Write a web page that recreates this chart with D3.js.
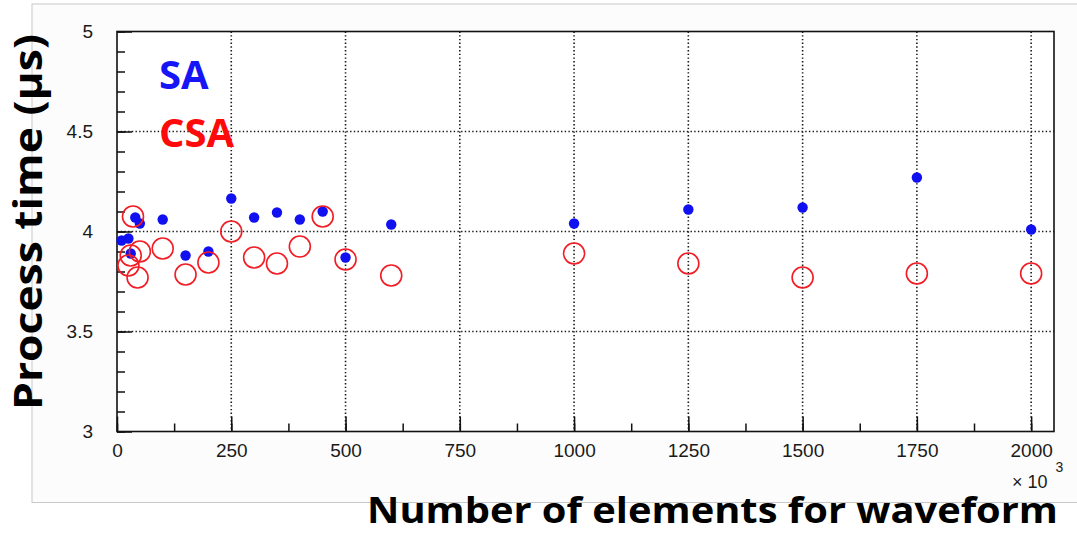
<!DOCTYPE html>
<html>
<head>
<meta charset="utf-8">
<script src="https://cdn.jsdelivr.net/npm/d3@7"></script>
<style>
  html, body { margin: 0; padding: 0; background: #ffffff; }
  svg { display: block; }
</style>
</head>
<body>
<svg id="chart" width="1077" height="534"></svg>
<script>
// ---- data (x in thousands of elements, y in microseconds) ----
const saX  = [10, 25, 30, 40, 50, 100, 150, 200, 250, 300, 350, 400, 450, 500, 600, 1000, 1250, 1500, 1750, 2000];
const saY  = [3.955, 3.965, 3.89, 4.07, 4.04, 4.06, 3.88, 3.90, 4.165, 4.07, 4.095, 4.06, 4.10, 3.87, 4.035, 4.04, 4.11, 4.12, 4.27, 4.01];
const csaX = [25, 30, 35, 45, 50, 100, 150, 200, 250, 300, 350, 400, 450, 500, 600, 1000, 1250, 1500, 1750, 2000];
const csaY = [3.83, 3.88, 4.075, 3.77, 3.90, 3.915, 3.785, 3.845, 4.00, 3.87, 3.84, 3.925, 4.075, 3.86, 3.78, 3.89, 3.84, 3.77, 3.79, 3.79];
const xTicks = [0, 250, 500, 750, 1000, 1250, 1500, 1750, 2000];
const yTicks = [3, 3.5, 4, 4.5, 5];
const seriesNames = ["SA", "CSA"];

(function () {
const svg = d3.select("#chart");
const W = 1077, H = 534;
const pL = 117, pR = 1054, pT = 31.5, pB = 431.5;

const x = d3.scaleLinear().domain([0, 2050]).range([pL, pR]);
const y = d3.scaleLinear().domain([3, 5]).range([pB, pT]);

// faint outer frame of the embedded picture
svg.append("rect").attr("x", 0).attr("y", 0).attr("width", W).attr("height", H).attr("fill", "#ffffff");
svg.append("rect").attr("x", 32).attr("y", 4).attr("width", W - 32 + 5).attr("height", 502.5 - 4)
  .attr("fill", "#fcfcfc").attr("stroke", "#c8c8c8").attr("stroke-width", 1);
svg.append("rect").attr("x", pL).attr("y", pT).attr("width", pR - pL).attr("height", pB - pT)
  .attr("fill", "#ffffff");

// grid (dotted)
const grid = svg.append("g").attr("stroke", "#1a1a1a").attr("stroke-width", 1.6)
  .attr("stroke-dasharray", "1.4 2.3").attr("fill", "none");
xTicks.filter(t => t > 0).forEach(t => {
  grid.append("line").attr("x1", x(t)).attr("x2", x(t)).attr("y1", pT).attr("y2", pB);
});
yTicks.filter(t => t > 3 && t < 5).forEach(t => {
  grid.append("line").attr("x1", pL).attr("x2", pR).attr("y1", y(t)).attr("y2", y(t));
});

// axes with inward ticks
const xMinor = d3.range(0, 2001, 125);
const yMinor = d3.range(30, 51, 1).map(d => d / 10);

const gxm = svg.append("g").attr("transform", `translate(0,${pB})`)
  .call(d3.axisTop(x).tickValues(xMinor).tickSize(8).tickFormat(""));
const gxM = svg.append("g").attr("transform", `translate(0,${pB})`)
  .call(d3.axisTop(x).tickValues(xTicks).tickSize(15).tickFormat(""));
const gym = svg.append("g").attr("transform", `translate(${pL},0)`)
  .call(d3.axisRight(y).tickValues(yMinor).tickSize(8).tickFormat(""));
const gyM = svg.append("g").attr("transform", `translate(${pL},0)`)
  .call(d3.axisRight(y).tickValues(yTicks).tickSize(15).tickFormat(""));
[gxm, gxM, gym, gyM].forEach(g => {
  g.select(".domain").remove();
  g.selectAll("line").attr("stroke", "#111").attr("stroke-width", 1.5);
});

// tick labels through axes
const gxl = svg.append("g").attr("transform", `translate(0,${pB})`)
  .call(d3.axisBottom(x).tickValues(xTicks).tickSize(0).tickPadding(0).tickFormat(d3.format("d")));
gxl.select(".domain").remove();
gxl.selectAll("text").attr("font-family", "Liberation Sans, Arial, sans-serif").attr("font-size", 19)
  .attr("fill", "#1a1a1a").attr("dy", null).attr("y", 25.5);

const gyl = svg.append("g").attr("transform", `translate(${pL},0)`)
  .call(d3.axisLeft(y).tickValues(yTicks).tickSize(0).tickPadding(24).tickFormat(d => String(d)));
gyl.select(".domain").remove();
gyl.selectAll("text").attr("font-family", "Liberation Sans, Arial, sans-serif").attr("font-size", 19)
  .attr("fill", "#1a1a1a");

// frame
svg.append("rect").attr("x", pL).attr("y", pT).attr("width", pR - pL).attr("height", pB - pT)
  .attr("fill", "none").attr("stroke", "#111").attr("stroke-width", 1.6);

// x 10^3 multiplier (single text, superscript as tspan)
const mult = svg.append("text").attr("x", 1012).attr("y", 488)
  .attr("font-family", "Liberation Sans, Arial, sans-serif").attr("font-size", 18).attr("fill", "#1a1a1a");
mult.append("tspan").text("× 10");
mult.append("tspan").attr("dx", 8).attr("dy", -16).attr("font-size", 14).text("3");

// series
const sa = saX.map((d, i) => ({ x: d, y: saY[i] }));
const csa = csaX.map((d, i) => ({ x: d, y: csaY[i] }));

svg.append("g").selectAll("circle").data(sa).join("circle")
  .attr("cx", d => x(d.x)).attr("cy", d => y(d.y)).attr("r", 5.2)
  .attr("fill", "#1010f0");

svg.append("g").selectAll("circle").data(csa).join("circle")
  .attr("cx", d => x(d.x)).attr("cy", d => y(d.y)).attr("r", 10.5)
  .attr("fill", "none").attr("stroke", "#f21c24").attr("stroke-width", 1.6);

// legend text
svg.append("text").attr("x", 159).attr("y", 89).attr("font-family", "Open Sans, sans-serif")
  .attr("font-weight", 700).attr("font-size", 40).attr("fill", "#1515f5").text(seriesNames[0]);
svg.append("text").attr("x", 159).attr("y", 147).attr("font-family", "Open Sans, sans-serif")
  .attr("font-weight", 700).attr("font-size", 40).attr("fill", "#ff0a0a").text(seriesNames[1]);

// axis titles
function fit(t, w) {
  const len = t.node().getComputedTextLength();
  if (len > 0) t.attr("textLength", w).attr("lengthAdjust", "spacingAndGlyphs");
}
const xt = svg.append("text").attr("x", 367).attr("y", 523).attr("font-family", "Open Sans, sans-serif")
  .attr("font-weight", 700).attr("font-size", 36).attr("fill", "#000").text("Number of elements for waveform");
fit(xt, 691);
const yt = svg.append("text").attr("transform", "translate(42,410) rotate(-90)")
  .attr("font-family", "Open Sans, sans-serif").attr("font-weight", 700).attr("font-size", 39)
  .attr("fill", "#000").text("Process time (μs)");
fit(yt, 376);
})();
</script>
</body>
</html>
